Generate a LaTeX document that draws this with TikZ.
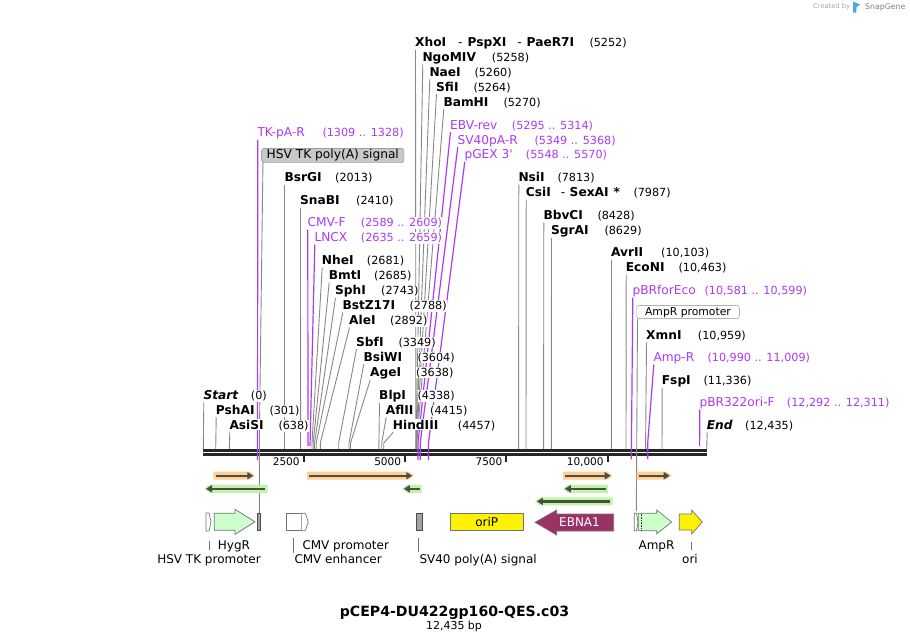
\documentclass[tikz,border=0pt]{standalone}
\usepackage{fontspec}
\setmainfont{DejaVu Sans}[Ligatures=TeXOff]
\usepackage{tikz}
\usetikzlibrary{arrows.meta}
\definecolor{violetamorce}{RGB}{172,58,242}
\definecolor{grisligne}{RGB}{135,135,135}
\definecolor{orangehl}{RGB}{255,208,145}
\definecolor{verthl}{RGB}{190,245,160}
\definecolor{vertfeat}{RGB}{204,255,204}
\definecolor{bordeaux}{RGB}{153,51,102}
\definecolor{grisfeat}{RGB}{160,164,170}
\definecolor{grisboite}{RGB}{198,200,204}
\definecolor{bleulogo}{RGB}{80,165,225}
\newcommand{\pcol}{violetamorce}
\newcommand{\lcol}{grisligne}
\pgfdeclarelayer{fond}
\pgfsetlayers{fond,main}

\begin{document}
\begin{tikzpicture}[x=1pt, y=-1pt,
    enz/.style={anchor=base west, inner xsep=0pt, inner ysep=1pt, fill=white, font=\bfseries\fontsize{12.2}{14}\selectfont},
    bout/.style={enz, font=\bfseries\itshape\fontsize{12.2}{14}\selectfont},
    num/.style={anchor=base west, inner xsep=0pt, inner ysep=1pt, fill=white, font=\fontsize{11.2}{13}\selectfont},
    amorce/.style={anchor=base west, inner xsep=0pt, inner ysep=1pt, fill=white, text=\pcol, font=\fontsize{12.2}{14}\selectfont},
    pnum/.style={num, text=\pcol},
    ligne/.style={draw=\lcol, line width=0.9pt},
    pligne/.style={draw=\pcol, line width=1.2pt},
    feat/.style={draw=black!55, line width=0.7pt},
    flabel/.style={anchor=base, inner sep=0pt, font=\fontsize{12}{14}\selectfont},
    graduation/.style={anchor=base east, inner sep=0pt, font=\fontsize{10.5}{12}\selectfont},
    hlfleche/.style={-{Triangle[length=6pt,width=7pt]}, draw=black!70, line width=2.2pt}]

    \useasboundingbox (0,0) rectangle (910,641);

    % signature
    \node[anchor=west, inner sep=0pt, text=black!35, font=\fontsize{6.7}{8}\selectfont] (cree) at (813,7) {Created by};
    \fill[bleulogo] (853,1.5) -- (860,4.5) -- (856.3,7.5) -- (856.3,12.5) -- (853,12.5) -- cycle;
    \node[anchor=west, inner sep=0pt, text=black!50, font=\fontsize{7.8}{9}\selectfont] (snap) at (865,7) {SnapGene};

    % sites de coupure, colonne du milieu
    \node[enz] (xhoI) at (415,46) {XhoI\hspace{12pt}{\mdseries -}\hspace{5pt}PspXI\hspace{11pt}{\mdseries -}\hspace{5pt}PaeR7I};
    \node[num] (xhoIn) at (589.3,46) {(5252)};
    \node[enz] (ngoMIV) at (422.3,61) {NgoMIV};
    \node[num] (ngoMIVn) at (491.7,61) {(5258)};
    \node[enz] (naeI) at (429.3,76) {NaeI};
    \node[num] (naeIn) at (474.3,76) {(5260)};
    \node[enz] (sfiI) at (436,91) {SfiI};
    \node[num] (sfiIn) at (473.3,91) {(5264)};
    \node[enz] (bamHI) at (443.3,106) {BamHI};
    \node[num] (bamHIn) at (503.3,106) {(5270)};
    \node[amorce] (ebvrev) at (450,129) {EBV-rev};
    \node[pnum] (ebvrevn) at (511.7,129) {(5295 .. 5314)};
    \node[amorce] (sv40pa) at (457.3,144) {SV40pA-R};
    \node[pnum] (sv40pan) at (534.3,144) {(5349 .. 5368)};
    \node[amorce] (pgex) at (464.3,158.7) {pGEX 3'};
    \node[pnum] (pgexn) at (525.7,158.7) {(5548 .. 5570)};

    % cote gauche
    \node[amorce] (tkpa) at (257.3,136.5) {TK-pA-R};
    \node[pnum] (tkpan) at (322.3,136.5) {(1309 .. 1328)};
    \node[draw=black!50, fill=grisboite, rounded corners=2.5pt, inner xsep=5pt, inner ysep=1.3pt,
          text height=9.3pt, text depth=2.5pt, minimum width=142.3pt, font=\fontsize{12.2}{14}\selectfont] (hsvpa) at (332.8,155.5) {HSV TK poly(A) signal};
    \node[enz] (bsrGI) at (284.3,181.5) {BsrGI};
    \node[num] (bsrGIn) at (335,181.5) {(2013)};
    \node[enz] (snaBI) at (300,204.5) {SnaBI};
    \node[num] (snaBIn) at (356,204.5) {(2410)};
    \node[amorce] (cmvf) at (307.3,226.5) {CMV-F};
    \node[pnum] (cmvfn) at (360.7,226.5) {(2589 .. 2609)};
    \node[amorce] (lncx) at (314.3,241.5) {LNCX};
    \node[pnum] (lncxn) at (360.7,241.5) {(2635 .. 2659)};
    \node[enz] (nheI) at (321.7,264.5) {NheI};
    \node[num] (nheIn) at (366.7,264.5) {(2681)};
    \node[enz] (bmtI) at (328.7,279.5) {BmtI};
    \node[num] (bmtIn) at (374,279.5) {(2685)};
    \node[enz] (sphI) at (335,294.5) {SphI};
    \node[num] (sphIn) at (381,294.5) {(2743)};
    \node[enz] (bstZ) at (342.3,309.5) {BstZ17I};
    \node[num] (bstZn) at (409.3,309.5) {(2788)};
    \node[enz] (aleI) at (349,324.5) {AleI};
    \node[num] (aleIn) at (390,324.5) {(2892)};
    \node[enz] (sbfI) at (356,346) {SbfI};
    \node[num] (sbfIn) at (398.3,346) {(3349)};
    \node[enz] (bsiWI) at (363.3,361) {BsiWI};
    \node[num] (bsiWIn) at (417.3,361) {(3604)};
    \node[enz] (ageI) at (370,376) {AgeI};
    \node[num] (ageIn) at (416,376) {(3638)};
    \node[bout] (debut) at (203.3,399.3) {Start};
    \node[num] (debutn) at (250.7,399.3) {(0)};
    \node[enz] (blpI) at (379,399.3) {BlpI};
    \node[num] (blpIn) at (417.3,399.3) {(4338)};
    \node[enz] (pshAI) at (215.7,414.3) {PshAI};
    \node[num] (pshAIn) at (269.3,414.3) {(301)};
    \node[enz] (aflII) at (385.7,414.3) {AflII};
    \node[num] (aflIIn) at (430,414.3) {(4415)};
    \node[enz] (asiSI) at (229.3,429.3) {AsiSI};
    \node[num] (asiSIn) at (278.3,429.3) {(638)};
    \node[enz] (hindIII) at (392.7,429.3) {HindIII};
    \node[num] (hindIIIn) at (457.7,429.3) {(4457)};

    % cote droit
    \node[enz] (nsiI) at (518.3,181.5) {NsiI};
    \node[num] (nsiIn) at (557.3,181.5) {(7813)};
    \node[enz] (csiI) at (525.7,196.5) {CsiI\hspace{10pt}{\mdseries -}\hspace{4.5pt}SexAI\hspace{5pt}*};
    \node[num] (csiIn) at (633.3,196.5) {(7987)};
    \node[enz] (bbvCI) at (543.3,219.5) {BbvCI};
    \node[num] (bbvCIn) at (597.3,219.5) {(8428)};
    \node[enz] (sgrAI) at (551,234.5) {SgrAI};
    \node[num] (sgrAIn) at (604.3,234.5) {(8629)};
    \node[enz] (avrII) at (611,256.5) {AvrII};
    \node[num] (avrIIn) at (661,256.5) {(10,103)};
    \node[enz] (ecoNI) at (625.7,271.5) {EcoNI};
    \node[num] (ecoNIn) at (678.3,271.5) {(10,463)};
    \node[amorce] (pbrfor) at (632.3,294.5) {pBRforEco};
    \node[pnum] (pbrforn) at (704.3,294.5) {(10,581 .. 10,599)};
    \node[draw=black!45, fill=white, rounded corners=2.5pt, inner xsep=3pt, inner ysep=1.2pt,
          text height=8.6pt, text depth=2.3pt, minimum width=102.6pt, font=\fontsize{10.8}{13}\selectfont] (ampprom) at (688,312) {AmpR promoter};
    \node[enz] (xmnI) at (646,339.3) {XmnI};
    \node[num] (xmnIn) at (697.7,339.3) {(10,959)};
    \node[amorce] (ampr) at (653.3,361.5) {Amp-R};
    \node[pnum] (amprn) at (707.3,361.5) {(10,990 .. 11,009)};
    \node[enz] (fspI) at (661.7,384.3) {FspI};
    \node[num] (fspIn) at (703.3,384.3) {(11,336)};
    \node[amorce] (pbrori) at (699.3,406.5) {pBR322ori-F};
    \node[pnum] (pbrorin) at (786.7,406.5) {(12,292 .. 12,311)};
    \node[bout] (fin) at (706.7,429.3) {End};
    \node[num] (finn) at (745,429.3) {(12,435)};

    % positions sur l'axe
    \coordinate (xhoIs) at (415.9,449);
    \coordinate (ngoMIVs) at (416.1,449);
    \coordinate (naeIs) at (416.3,449);
    \coordinate (sfiIs) at (416.5,449);
    \coordinate (bamHIs) at (416.8,449);
    \coordinate (ebvrevs) at (418,460);
    \coordinate (sv40pas) at (420.2,460);
    \coordinate (pgexs) at (428.5,460);
    \coordinate (tkpas) at (257.5,460);
    \coordinate (hsvpas) at (259.3,513);
    \coordinate (bsrGIs) at (284.8,449);
    \coordinate (snaBIs) at (300.6,449);
    \coordinate (cmvfs) at (308,446);
    \coordinate (lncxs) at (310,446);
    \coordinate (nheIs) at (312,449);
    \coordinate (bmtIs) at (313.2,449);
    \coordinate (sphIs) at (314.6,449);
    \coordinate (bstZs) at (316.2,449);
    \coordinate (aleIs) at (320.3,449);
    \coordinate (sbfIs) at (338.7,449);
    \coordinate (bsiWIs) at (349,449);
    \coordinate (ageIs) at (350.5,449);
    \coordinate (debuts) at (203.3,449);
    \coordinate (blpIs) at (378.9,449);
    \coordinate (pshAIs) at (215.7,449);
    \coordinate (aflIIs) at (381.7,449);
    \coordinate (asiSIs) at (229.3,449);
    \coordinate (hindIIIs) at (383.7,449);
    \coordinate (nsiIs) at (518.6,449);
    \coordinate (csiIs) at (526,449);
    \coordinate (bbvCIs) at (543.6,449);
    \coordinate (sgrAIs) at (551.3,449);
    \coordinate (avrIIs) at (611.3,449);
    \coordinate (ecoNIs) at (626,449);
    \coordinate (pbrfors) at (631.3,459);
    \coordinate (ampproms) at (636.3,511);
    \coordinate (xmnIs) at (645.6,449);
    \coordinate (amprs) at (647.7,459);
    \coordinate (fspIs) at (662,449);
    \coordinate (pbroris) at (699.6,446);
    \coordinate (fins) at (706.7,449);

    \begin{pgfonlayer}{fond}
    % axe
    \draw[black!85, line width=2.6pt] (203,450.7) -- (707,450.7);
    \draw[black!85, line width=2.4pt] (203,454.5) -- (707,454.5);

    % traits des sites
    \draw[ligne] ([xshift=.5pt,yshift=-3pt]xhoI.base west) -- ([yshift=6pt]xhoIs) -- (xhoIs);
    \draw[ligne] ([xshift=.5pt,yshift=-3pt]ngoMIV.base west) -- ([yshift=6pt]ngoMIVs) -- (ngoMIVs);
    \draw[ligne] ([xshift=.5pt,yshift=-3pt]naeI.base west) -- ([yshift=6pt]naeIs) -- (naeIs);
    \draw[ligne] ([xshift=.5pt,yshift=-3pt]sfiI.base west) -- ([yshift=6pt]sfiIs) -- (sfiIs);
    \draw[ligne] ([xshift=.5pt,yshift=-3pt]bamHI.base west) -- ([yshift=6pt]bamHIs) -- (bamHIs);
    \draw[ligne] ([xshift=.5pt,yshift=-3pt]bsrGI.base west) -- ([yshift=6pt]bsrGIs) -- (bsrGIs);
    \draw[ligne] ([xshift=.5pt,yshift=-3pt]snaBI.base west) -- ([yshift=6pt]snaBIs) -- (snaBIs);
    \draw[ligne] ([xshift=.5pt,yshift=-3pt]nheI.base west) -- ([yshift=6pt]nheIs) -- (nheIs);
    \draw[ligne] ([xshift=.5pt,yshift=-3pt]bmtI.base west) -- ([yshift=6pt]bmtIs) -- (bmtIs);
    \draw[ligne] ([xshift=.5pt,yshift=-3pt]sphI.base west) -- ([yshift=6pt]sphIs) -- (sphIs);
    \draw[ligne] ([xshift=.5pt,yshift=-3pt]bstZ.base west) -- ([yshift=6pt]bstZs) -- (bstZs);
    \draw[ligne] ([xshift=.5pt,yshift=-3pt]aleI.base west) -- ([yshift=6pt]aleIs) -- (aleIs);
    \draw[ligne] ([xshift=.5pt,yshift=-3pt]sbfI.base west) -- ([yshift=6pt]sbfIs) -- (sbfIs);
    \draw[ligne] ([xshift=.5pt,yshift=-3pt]bsiWI.base west) -- ([yshift=6pt]bsiWIs) -- (bsiWIs);
    \draw[ligne] ([xshift=.5pt,yshift=-3pt]ageI.base west) -- ([yshift=6pt]ageIs) -- (ageIs);
    \draw[ligne] ([xshift=.5pt,yshift=-3pt]debut.base west) -- (debuts);
    \draw[ligne] ([xshift=.5pt,yshift=-3pt]blpI.base west) -- ([yshift=6pt]blpIs) -- (blpIs);
    \draw[ligne] ([xshift=.5pt,yshift=-3pt]pshAI.base west) -- (pshAIs);
    \draw[ligne] ([xshift=.5pt,yshift=-3pt]aflII.base west) -- ([yshift=6pt]aflIIs) -- (aflIIs);
    \draw[ligne] ([xshift=.5pt,yshift=-3pt]asiSI.base west) -- (asiSIs);
    \draw[ligne] ([xshift=.5pt,yshift=-3pt]hindIII.base west) -- ([yshift=6pt]hindIIIs) -- (hindIIIs);
    \draw[ligne] ([xshift=.5pt,yshift=-3pt]nsiI.base west) -- (nsiIs);
    \draw[ligne] ([xshift=.5pt,yshift=-3pt]csiI.base west) -- (csiIs);
    \draw[ligne] ([xshift=.5pt,yshift=-3pt]bbvCI.base west) -- (bbvCIs);
    \draw[ligne] ([xshift=.5pt,yshift=-3pt]sgrAI.base west) -- (sgrAIs);
    \draw[ligne] ([xshift=.5pt,yshift=-3pt]avrII.base west) -- (avrIIs);
    \draw[ligne] ([xshift=.5pt,yshift=-3pt]ecoNI.base west) -- (ecoNIs);
    \draw[ligne] ([xshift=.5pt,yshift=-3pt]xmnI.base west) -- ([yshift=6pt]xmnIs) -- (xmnIs);
    \draw[ligne] ([xshift=.5pt,yshift=-3pt]fspI.base west) -- (fspIs);
    \draw[ligne] ([xshift=.5pt,yshift=-3pt]fin.base west) -- (fins);
    \draw[ligne] ([xshift=1.5pt]hsvpa.south west) -- ([yshift=70pt]hsvpas) -- (hsvpas);
    \draw[ligne] ([xshift=1pt]ampprom.south west) -- (ampproms);

    % traits des amorces
    \draw[pligne] ([xshift=.5pt,yshift=-3pt]ebvrev.base west) -- ([yshift=17pt]ebvrevs) -- (ebvrevs);
    \draw[pligne] ([xshift=.5pt,yshift=-3pt]sv40pa.base west) -- ([yshift=17pt]sv40pas) -- (sv40pas);
    \draw[pligne] ([xshift=.5pt,yshift=-3pt]pgex.base west) -- ([yshift=17pt]pgexs) -- (pgexs);
    \draw[pligne] ([xshift=.5pt,yshift=-3pt]tkpa.base west) -- (tkpas);
    \draw[pligne] ([xshift=.5pt,yshift=-3pt]cmvf.base west) -- (cmvfs);
    \draw[pligne] ([xshift=.5pt,yshift=-3pt]lncx.base west) -- (lncxs);
    \draw[pligne] ([xshift=.5pt,yshift=-3pt]pbrfor.base west) -- (pbrfors);
    \draw[pligne] ([xshift=.5pt,yshift=-3pt]ampr.base west) -- ([yshift=16pt]amprs) -- (amprs);
    \draw[pligne] ([xshift=.5pt,yshift=-3pt]pbrori.base west) -- (pbroris);
    \end{pgfonlayer}

    % graduations
    \draw[black!85, line width=2pt] (303.5,455) -- (303.5,462.3);
    \draw[black!85, line width=2pt] (405,455) -- (405,462.3);
    \draw[black!85, line width=2pt] (506.3,455) -- (506.3,462.3);
    \draw[black!85, line width=2pt] (607.6,455) -- (607.6,462.3);
    \node[graduation] (g1) at (299.8,465.7) {2500};
    \node[graduation] (g2) at (401.2,465.7) {5000};
    \node[graduation] (g3) at (502.5,465.7) {7500};
    \node[graduation] (g4) at (603.8,465.7) {10,000};

    % fleches surlignees
    \fill[orangehl] (213.3,471.7) -- (250,471.7) -- (255,475.7) -- (250,479.7) -- (213.3,479.7) -- cycle;
    \draw[hlfleche] (215.7,475.7) -- (253.3,475.7);
    \fill[orangehl] (307,471.7) -- (409,471.7) -- (414,475.7) -- (409,479.7) -- (307,479.7) -- cycle;
    \draw[hlfleche] (309,475.7) -- (412.3,475.7);
    \fill[orangehl] (563,471.7) -- (607.5,471.7) -- (612.5,475.7) -- (607.5,479.7) -- (563,479.7) -- cycle;
    \draw[hlfleche] (565,475.7) -- (610.7,475.7);
    \fill[orangehl] (636.7,471.7) -- (666.5,471.7) -- (671.5,475.7) -- (666.5,479.7) -- (636.7,479.7) -- cycle;
    \draw[hlfleche] (638.5,475.7) -- (669.7,475.7);
    \fill[verthl] (267.5,484.8) -- (209.3,484.8) -- (204.3,488.8) -- (209.3,492.8) -- (267.5,492.8) -- cycle;
    \draw[hlfleche] (265.3,488.8) -- (206,488.8);
    \fill[verthl] (421.7,484.8) -- (407,484.8) -- (402,488.8) -- (407,492.8) -- (421.7,492.8) -- cycle;
    \draw[hlfleche] (419.5,488.8) -- (403.8,488.8);
    \fill[verthl] (607.8,484.8) -- (568,484.8) -- (563,488.8) -- (568,492.8) -- (607.8,492.8) -- cycle;
    \draw[hlfleche] (605.5,488.8) -- (564.8,488.8);
    \fill[verthl] (612.5,497.4) -- (540,497.4) -- (535,501.4) -- (540,505.4) -- (612.5,505.4) -- cycle;
    \draw[hlfleche] (610.3,501.4) -- (536.8,501.4);

    % elements
    \draw[feat, fill=white] (206,513) -- (209,513) -- (211,522) -- (209,531) -- (206,531) -- cycle;
    \draw[feat, fill=vertfeat] (214.3,513.3) -- (235,513.3) -- (235,509.3) -- (255,521.8) -- (235,534.3) -- (235,530.3) -- (214.3,530.3) -- cycle;
    \draw[feat, draw=black!70, fill=grisfeat] (257.7,513.3) rectangle (260.3,530.7);
    \draw[feat, fill=white] (286,513.3) rectangle (301.7,530.7);
    \draw[feat, fill=white] (301.7,513.3) -- (305.3,513.3) -- (308.3,522) -- (305.3,530.7) -- (301.7,530.7);
    \draw[feat, draw=black!70, fill=grisfeat] (416,513.3) rectangle (422,530.7);
    \draw[feat, fill=yellow] (450,513.3) rectangle (523.3,530.7);
    \node[font=\fontsize{12}{14}\selectfont, inner sep=0pt] (orip) at (486.7,522) {oriP};
    \draw[feat, fill=bordeaux] (613.7,514) -- (556.7,514) -- (556.7,510) -- (535,522.3) -- (556.7,535) -- (556.7,531) -- (613.7,531) -- cycle;
    \node[font=\fontsize{12}{14}\selectfont, text=white, inner sep=0pt] (ebna) at (579.5,522.5) {EBNA1};
    \draw[feat, fill=white] (634.2,513.3) -- (636.5,513.3) -- (638,522) -- (636.5,530.7) -- (634.2,530.7) -- cycle;
    \draw[feat, fill=vertfeat] (638.3,513.3) -- (656.7,513.3) -- (656.7,510) -- (671.7,522) -- (656.7,533.8) -- (656.7,530.7) -- (638.3,530.7) -- cycle;
    \draw[black!80, line width=0.6pt, densely dotted] (641.7,513.6) -- (641.7,530.4);
    \draw[feat, fill=yellow] (679.3,514) -- (691.7,514) -- (691.7,510) -- (702.3,522) -- (691.7,534) -- (691.7,530) -- (679.3,530) -- cycle;

    % noms des elements
    \node[flabel] (hsvprom) at (209,563.3) {HSV TK promoter};
    \node[flabel] (hygr) at (234,549) {HygR};
    \node[flabel, anchor=base west] (cmvprom) at (302.3,549) {CMV promoter};
    \node[flabel, anchor=base west] (cmvenh) at (294.3,563.3) {CMV enhancer};
    \node[flabel, anchor=base west] (sv40sig) at (419.3,563.3) {SV40 poly(A) signal};
    \node[flabel] (amprlab) at (656.5,549) {AmpR};
    \node[flabel] (orilab) at (690,563.3) {ori};
    \coordinate (hsvpromh) at (209.3,540.5);
    \coordinate (cmvenhh) at (293.3,537.5);
    \coordinate (sv40sigh) at (418.3,537.5);
    \coordinate (orilabh) at (691,541.5);
    \draw[black!55, line width=0.8pt] (hsvpromh) -- ([xshift=.3pt,yshift=4.5pt]hsvprom.north);
    \draw[black!55, line width=0.8pt] (cmvenhh) -- ([xshift=-1pt,yshift=1.2pt]cmvenh.north west);
    \draw[black!55, line width=0.8pt] (sv40sigh) -- ([xshift=-1pt,yshift=1.5pt]sv40sig.north west);
    \draw[black!55, line width=0.8pt] (orilabh) -- ([xshift=1pt,yshift=4pt]orilab.north);

    % titre
    \node[anchor=base, inner sep=0pt, font=\bfseries\fontsize{14.1}{16}\selectfont] (titre) at (454.5,616) {pCEP4-DU422gp160-QES.c03};
    \node[anchor=base, inner sep=0pt, font=\fontsize{11}{13}\selectfont] (taille) at (454,629) {12,435 bp};

\end{tikzpicture}
\end{document}
